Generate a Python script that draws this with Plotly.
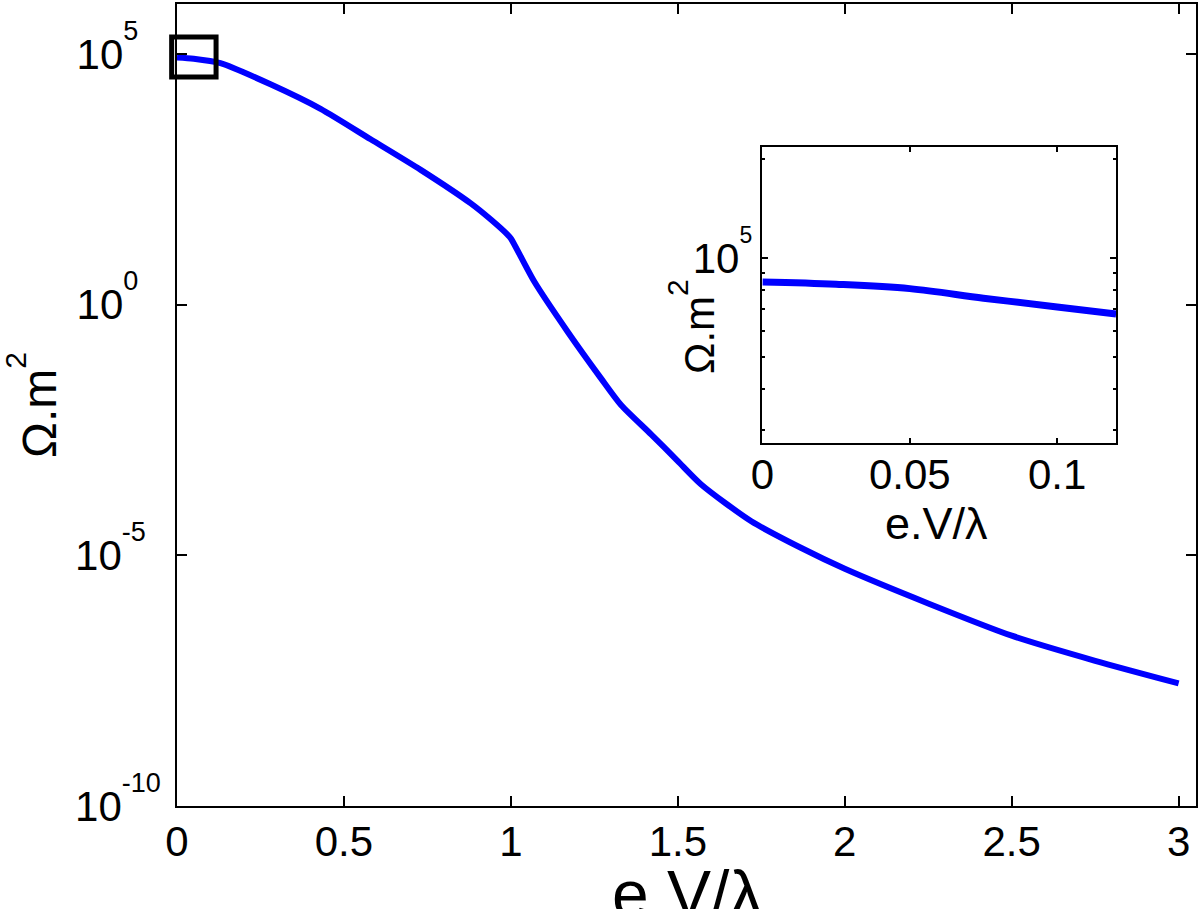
import math
import plotly.graph_objects as go

# ---- data ----
main_x = [0, 0.05, 0.13, 0.28, 0.43, 0.58, 0.73, 0.88, 0.94, 0.99, 1.0, 1.07, 1.17, 1.27,
          1.33, 1.42, 1.5, 1.57, 1.72, 1.87, 2.0, 2.25, 2.5, 2.75, 3.0]
main_y = [8.6e4, 8.1e4, 6.6e4, 2.5e4, 8.1e3, 2.0e3, 4.9e2, 1.05e2, 5.0e1, 2.5e1, 2.1e1, 2.9,
          2.9e-1, 3.4e-2, 1.0e-2, 2.6e-3, 7.6e-4, 2.6e-4, 4.8e-5, 1.4e-5, 5.4e-6,
          1.1e-6, 2.5e-7, 7.9e-8, 2.8e-8]

inset_x = [0, 0.025, 0.05, 0.075, 0.1, 0.12]
inset_y = [8.45e4, 8.32e4, 8.07e4, 7.55e4, 7.1e4, 6.76e4]

main_xticks = [0, 0.5, 1, 1.5, 2, 2.5, 3]
main_xticktext = ["0", "0.5", "1", "1.5", "2", "2.5", "3"]
main_yticks = [1e-10, 1e-5, 1, 1e5]
main_yexp = ["-10", "-5", "0", "5"]

inset_xticks = [0, 0.05, 0.1]
inset_xticktext = ["0", "0.05", "0.1"]
inset_yminor = [3e4, 4e4, 5e4, 6e4, 7e4, 8e4, 9e4, 2e5]

# zoom box drawn on the main axes (data coordinates)
box_x = [-0.016, 0.117]
box_y = [3.5e4, 2.2e5]

main_xrange = [0, 3.052]
main_ylog_range = [-10, 6]
inset_xrange = [0, 0.12]
inset_ylog_range = [4.438, 5.338]

FONT = "Liberation Sans, Arial, sans-serif"
NB = "\u00a0"
PAD = {"-10": "", "-5": NB * 2, "0": NB * 3, "5": NB * 3}


def sup_label(exp, size=27, shift=29, pad=True):
    p = PAD[exp] if pad else ""
    return ("10<span style=\"font-size:%dpx;baseline-shift:%dpx\">" % (size, shift)
            + exp + p + "</span>")


fig = go.Figure()

fig.add_trace(go.Scatter(x=main_x, y=main_y, mode="lines",
                         line=dict(color="#0000ff", width=6, shape="spline", smoothing=0.7),
                         xaxis="x", yaxis="y", showlegend=False))

fig.add_trace(go.Scatter(x=inset_x, y=inset_y, mode="lines",
                         line=dict(color="#0000ff", width=7, shape="spline"),
                         xaxis="x2", yaxis="y2", showlegend=False))

axis_common = dict(showgrid=False, zeroline=False, showline=True, linecolor="black",
                   linewidth=1.5, mirror="ticks", ticks="inside", tickcolor="black",
                   tickfont=dict(family=FONT, size=42, color="black"))

lo, hi = main_ylog_range
fx = lambda v: (v - main_xrange[0]) / (main_xrange[1] - main_xrange[0])
fy = lambda v: (math.log10(v) - lo) / (hi - lo)

fig.update_layout(
    width=1200, height=909,
    margin=dict(l=177, r=3, t=2, b=103),
    paper_bgcolor="white", plot_bgcolor="white",
    xaxis=dict(domain=[0, 1], range=main_xrange, tickmode="array",
               tickvals=main_xticks, ticktext=main_xticktext, ticklen=10,
               tickwidth=1.5, ticklabelstandoff=-2, **axis_common),
    yaxis=dict(domain=[0, 1], type="log", range=main_ylog_range, tickmode="array",
               tickvals=main_yticks, ticktext=[sup_label(e) for e in main_yexp],
               ticklen=10, tickwidth=1.5, ticklabelstandoff=6, **axis_common),
    xaxis2=dict(domain=[0.5745, 0.9216], anchor="y2", range=inset_xrange,
                tickmode="array", tickvals=inset_xticks, ticktext=inset_xticktext,
                ticklen=5, tickwidth=1.5, ticklabelstandoff=-6, **axis_common),
    yaxis2=dict(domain=[0.4527, 0.822], anchor="x2", type="log",
                range=inset_ylog_range, tickmode="array", tickvals=[1e5],
                ticktext=[sup_label("5", size=23, shift=30, pad=False)], ticklen=6,
                tickwidth=1.5, ticklabelstandoff=0,
                minor=dict(tickmode="array", tickvals=inset_yminor, ticks="inside",
                           ticklen=3, tickcolor="black", tickwidth=1.5),
                **axis_common),
    shapes=[
        dict(type="rect", xref="x2 domain", yref="y2 domain", x0=0, x1=1, y0=0, y1=1,
             fillcolor="white", line=dict(width=0), layer="below"),
        dict(type="rect", xref="x domain", yref="y domain",
             x0=fx(box_x[0]), x1=fx(box_x[1]), y0=fy(box_y[0]), y1=fy(box_y[1]),
             line=dict(color="black", width=5), layer="above"),
    ],
    annotations=[
        dict(text="e.V/\u03bb", xref="paper", yref="paper", x=0.5, y=0,
             xanchor="center", yanchor="middle", yshift=-88, showarrow=False,
             font=dict(family=FONT, size=66, color="black")),
        dict(text="\u03a9.m<span style=\"font-size:30px;baseline-shift:30px\">2</span>",
             xref="paper", yref="paper", x=0, y=0.5, xanchor="center",
             yanchor="middle", xshift=-145, textangle=-90, showarrow=False,
             font=dict(family=FONT, size=48, color="black")),
        dict(text="e.V/\u03bb", xref="paper", yref="paper", x=0.745, y=0.352,
             xanchor="center", yanchor="middle", showarrow=False,
             font=dict(family=FONT, size=45, color="black")),
        dict(text="\u03a9.m<span style=\"font-size:30px;baseline-shift:26px\">2</span>",
             xref="paper", yref="paper", x=0.506, y=0.598, xanchor="center",
             yanchor="middle", textangle=-90, showarrow=False,
             font=dict(family=FONT, size=42, color="black")),
    ],
)

fig.write_html("out.html", config={"displayModeBar": False},
               post_script="document.body.style.margin='0';")
